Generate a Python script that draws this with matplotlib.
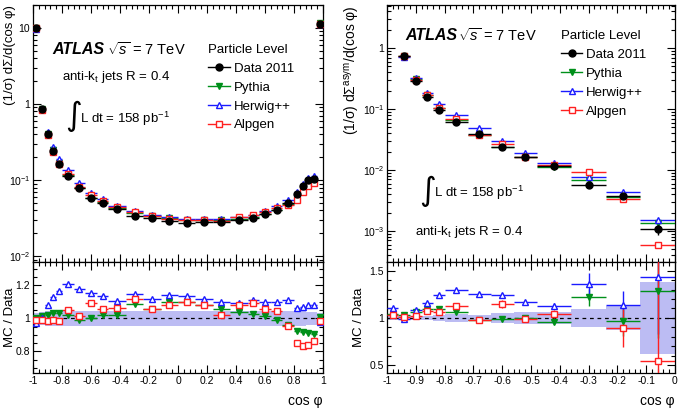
import matplotlib
matplotlib.use('Agg')
import matplotlib.pyplot as plt
import numpy as np
from matplotlib.lines import Line2D
from matplotlib.ticker import FixedLocator, MultipleLocator, FuncFormatter, NullFormatter, LogLocator

plt.rcParams['font.family'] = ['Liberation Sans', 'DejaVu Sans']
plt.rcParams['mathtext.fontset'] = 'custom'
plt.rcParams['mathtext.rm'] = 'Liberation Sans'
plt.rcParams['mathtext.it'] = 'Liberation Sans:italic'
plt.rcParams['mathtext.bf'] = 'Liberation Sans:bold'
plt.rcParams['axes.unicode_minus'] = False

# ---- left: full cos(phi) range ----
edges_l = [-1, -0.96, -0.92, -0.88, -0.84, -0.80, -0.72, -0.64, -0.56, -0.48, -0.36, -0.24, -0.12, 0,
           0.12, 0.24, 0.36, 0.48, 0.56, 0.64, 0.72, 0.80, 0.84, 0.88, 0.92, 0.96, 1.0]
data_l = [10.0, 0.85, 0.40, 0.238, 0.165, 0.114, 0.079, 0.059, 0.050, 0.042, 0.034, 0.0315, 0.0288,
          0.027, 0.0279, 0.0284, 0.030, 0.0318, 0.036, 0.041, 0.050, 0.065, 0.083, 0.099, 0.105, 11.4]
herwig_l = [0.972, 1.00, 1.082, 1.128, 1.164, 1.206, 1.178, 1.154, 1.132, 1.104, 1.148, 1.118, 1.14,
            1.132, 1.118, 1.10, 1.09, 1.11, 1.10, 1.10, 1.11, 1.06, 1.07, 1.08, 1.08, 0.98]
pythia_l = [1.0, 1.014, 1.022, 1.032, 1.032, 1.022, 0.988, 1.0, 1.022, 1.022, 1.084, 1.058, 1.10,
            1.098, 1.078, 1.058, 1.038, 1.028, 1.012, 0.988, 0.962, 0.924, 0.918, 0.914, 0.908, 1.008]
alpgen_l = [0.988, 0.99, 0.982, 0.988, 0.982, 1.052, 1.014, 1.092, 1.058, 1.062, 1.118, 1.058, 1.082,
            1.10, 1.078, 1.018, 1.082, 1.094, 1.058, 1.042, 0.952, 0.854, 0.832, 0.842, 0.862, 0.982]
band_l = [0.03, 0.04, 0.045, 0.045, 0.045, 0.045, 0.045, 0.045, 0.045, 0.045, 0.045, 0.045, 0.045,
          0.045, 0.045, 0.045, 0.045, 0.045, 0.045, 0.045, 0.045, 0.045, 0.045, 0.04, 0.04, 0.03]

# ---- right: asymmetry, negative half ----
edges_r = [-1, -0.96, -0.92, -0.88, -0.84, -0.80, -0.72, -0.64, -0.56, -0.48, -0.36, -0.24, -0.12, 0]
data_r = [9.0, 0.73, 0.294, 0.157, 0.097, 0.0615, 0.0388, 0.0237, 0.0166, 0.0117, 0.0057, 0.00378, 0.00107]
data_r_err = [0.1, 0.01, 0.004, 0.002, 0.0012, 0.0008, 0.0005, 0.0003, 0.0002, 0.00015, 0.0001, 0.0001, 0.0002]
herwig_r = [1.10, 0.99, 1.08, 1.16, 1.24, 1.29, 1.255, 1.243, 1.165, 1.13, 1.36, 1.14, 1.43]
pythia_r = [1.04, 1.03, 1.065, 1.095, 1.09, 1.065, 0.98, 0.99, 0.995, 0.962, 1.22, 0.965, 1.28]
alpgen_r = [1.03, 1.01, 1.017, 1.073, 1.068, 1.126, 0.98, 1.146, 0.99, 1.04, 1.66, 0.897, 0.548]
herwig_r_err = [0.01, 0.01, 0.01, 0.01, 0.015, 0.015, 0.015, 0.02, 0.02, 0.03, 0.11, 0.14, 0.6]
pythia_r_err = [0.01, 0.01, 0.01, 0.01, 0.015, 0.015, 0.015, 0.02, 0.02, 0.03, 0.09, 0.15, 0.49]
alpgen_r_err = [0.01, 0.01, 0.01, 0.015, 0.02, 0.02, 0.02, 0.04, 0.03, 0.04, 0.0, 0.2, 1.1]
band_r = [0.02, 0.02, 0.02, 0.025, 0.03, 0.045, 0.035, 0.05, 0.065, 0.065, 0.095, 0.13, 0.375]

GREEN = '#00901a'
BLUE = '#1a1aff'
RED = '#ff2020'
BAND = '#bcbcf3'

styles = [('Pythia', 'v', GREEN, GREEN), ('Herwig++', '^', BLUE, 'white'), ('Alpgen', 's', RED, 'white')]

fig = plt.figure(figsize=(6.82, 4.09), dpi=100)
axL = fig.add_axes([0.0484, 0.3594, 0.4252, 0.6284])
axLr = fig.add_axes([0.0484, 0.0880, 0.4252, 0.2714])
axR = fig.add_axes([0.5674, 0.3594, 0.4223, 0.6284])
axRr = fig.add_axes([0.5674, 0.0880, 0.4223, 0.2714])


def draw(ax, axr, edges, data, derr, ratios, rerrs, band):
    edges = np.array(edges)
    x = 0.5 * (edges[1:] + edges[:-1])
    hw = 0.5 * np.diff(edges)
    data = np.array(data)
    # ratio panel
    axr.bar(x, 2 * np.array(band), bottom=1 - np.array(band), width=2 * hw, color=BAND, lw=0, zorder=1)
    axr.axhline(1, color='black', ls=(0, (3, 3)), lw=0.9, zorder=2)
    for (name, m, c, fc), r, e in zip(styles, ratios, rerrs):
        r = np.array(r)
        # top panel model = data * (MC/Data)
        ax.errorbar(x, data * r, xerr=hw, fmt=m, color=c, mfc=fc, mec=c, ms=5, lw=1,
                    capsize=0, zorder=3)
        axr.errorbar(x, r, xerr=hw, yerr=e, fmt=m, color=c, mfc=fc, mec=c, ms=5, lw=1,
                     capsize=0, zorder=3)
    ax.errorbar(x, data, xerr=hw, yerr=derr, fmt='o', color='black', ms=5, lw=1, capsize=0, zorder=5)


draw(axL, axLr, edges_l, data_l, [d * 0.01 for d in data_l],
     [pythia_l, herwig_l, alpgen_l], [None, None, None], band_l)
draw(axR, axRr, edges_r, data_r, data_r_err,
     [pythia_r, herwig_r, alpgen_r], [pythia_r_err, herwig_r_err, alpgen_r_err], band_r)

def pow_fmt(v, pos):
    if v <= 0:
        return ''
    e = int(round(np.log10(v)))
    if e == 0:
        return '1'
    if e == 1:
        return '10'
    return r'$10^{%d}$' % e

def num_fmt(v, pos):
    return '%g' % round(v, 3)

for ax in (axL, axR):
    ax.set_yscale('log')
    ax.yaxis.set_major_formatter(FuncFormatter(pow_fmt))
    ax.yaxis.set_minor_locator(LogLocator(base=10, subs=np.arange(2, 10)))
    ax.yaxis.set_minor_formatter(NullFormatter())
    ax.tick_params(axis='x', labelbottom=False)

axL.set_xlim(-1, 1)
axLr.set_xlim(-1, 1)
axR.set_xlim(-1, 0)
axRr.set_xlim(-1, 0)
axL.set_ylim(0.0084, 20)
axR.set_ylim(3.1e-4, 5.1)
axLr.set_ylim(0.67, 1.34)
axRr.set_ylim(0.42, 1.59)

for ax in (axL, axLr):
    ax.xaxis.set_major_locator(MultipleLocator(0.2))
    ax.xaxis.set_minor_locator(MultipleLocator(0.04))
for ax in (axR, axRr):
    ax.xaxis.set_major_locator(MultipleLocator(0.1))
    ax.xaxis.set_minor_locator(MultipleLocator(0.02))
axLr.yaxis.set_major_locator(FixedLocator([0.8, 1.0, 1.2]))
axLr.yaxis.set_minor_locator(MultipleLocator(0.05))
axRr.yaxis.set_major_locator(FixedLocator([0.5, 1.0, 1.5]))
axRr.yaxis.set_minor_locator(MultipleLocator(0.1))

for ax in (axL, axLr, axR, axRr):
    ax.tick_params(which='both', direction='in', top=True, right=True, labelsize=7.5, width=0.8, pad=2)
    ax.tick_params(which='major', length=6)
    ax.tick_params(which='minor', length=3)
    for s in ax.spines.values():
        s.set_linewidth(0.9)
for ax in (axLr, axRr):
    ax.xaxis.set_major_formatter(FuncFormatter(num_fmt))
    ax.yaxis.set_major_formatter(FuncFormatter(num_fmt))
    ax.set_xlabel('cos φ', fontsize=10, loc='right')
    ax.xaxis.set_label_coords(1.0, -0.19)
    ax.set_ylabel('MC / Data', fontsize=9.5)

axLr.yaxis.set_label_coords(-0.058, 0.5)
axRr.yaxis.set_label_coords(-0.076, 0.5)

axL.set_ylabel('(1/σ) dΣ/d(cos φ)', fontsize=9.5, loc='top')
axR.set_ylabel(r'(1/σ) d$\Sigma^{\mathrm{asym}}$/d(cos φ)', fontsize=10, loc='top')
axL.yaxis.set_label_coords(-0.058, 1.0)
axR.yaxis.set_label_coords(-0.087, 1.0)

# annotations
def lumi(ax, xi, y):
    ax.text(xi, y, '∫', transform=ax.transAxes, fontsize=23, family='DejaVu Sans', va='center', ha='left')
    ax.text(xi + 0.05, y - 0.008, r'L dt = 158 pb$^{-1}$', transform=ax.transAxes, fontsize=9.5,
            va='center', ha='left')

axL.text(0.065, 0.825, 'ATLAS', transform=axL.transAxes, fontsize=11.5, weight='bold', style='italic', va='center')
axL.text(0.255, 0.825, r'$\sqrt{s}$ = 7 TeV', transform=axL.transAxes, fontsize=10.5, va='center')
axL.text(0.10, 0.72, r'anti-k$_{\mathrm{t}}$ jets R = 0.4', transform=axL.transAxes, fontsize=9.5, va='center')
lumi(axL, 0.112, 0.565)

axR.text(0.0625, 0.88, 'ATLAS', transform=axR.transAxes, fontsize=11.5, weight='bold', style='italic', va='center')
axR.text(0.247, 0.88, r'$\sqrt{s}$ = 7 TeV', transform=axR.transAxes, fontsize=10.5, va='center')
axR.text(0.097, 0.117, r'anti-k$_{\mathrm{t}}$ jets R = 0.4', transform=axR.transAxes, fontsize=9.5, va='center')
lumi(axR, 0.112, 0.275)

handles = [Line2D([], [], color='black', marker='o', ms=5, lw=1)]
labels = ['Data 2011']
for name, m, c, fc in styles:
    handles.append(Line2D([], [], color=c, marker=m, mfc=fc, mec=c, ms=5, lw=1))
    labels.append(name)

for ax, xy in ((axL, (0.605, 0.848)), (axR, (0.605, 0.902))):
    leg = ax.legend(handles, labels, title='Particle Level', loc='upper left', bbox_to_anchor=xy,
                    frameon=False, fontsize=9.5, title_fontsize=9.5, handlelength=1.6,
                    handletextpad=0.3, labelspacing=0.5, borderpad=0, borderaxespad=0,
                    alignment='left')

fig.savefig('out.png', dpi=100)
